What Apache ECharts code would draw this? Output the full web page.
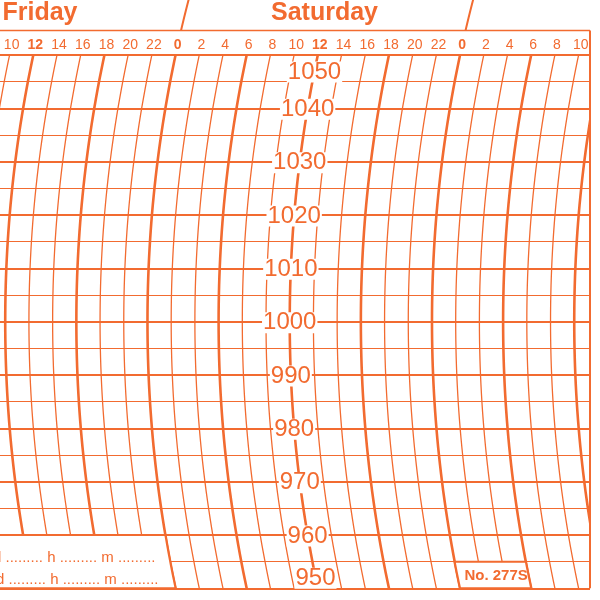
<!DOCTYPE html>
<html>
<head>
<meta charset="utf-8">
<script src="https://cdn.jsdelivr.net/npm/echarts@6/dist/echarts.min.js"></script>
<style>
html,body{margin:0;padding:0;background:#fff;}
#c{width:600px;height:600px;}
</style>
</head>
<body>
<div id="c"></div>
<script>
// ---- chart content ----
const dayNames = ['Friday', 'Saturday'];
const dayNoonHours = [12, 36];              // hours counted from Friday 00:00
const daySeparatorHours = [24, 48];
const timeLineHours = [8, 10, 12, 14, 16, 18, 20, 22, 24, 26, 28, 30, 32, 34, 36, 38, 40, 42, 44, 46, 48, 50, 52, 54, 56, 58, 60];
const hourLabelHours = [10, 12, 14, 16, 18, 20, 22, 24, 26, 28, 30, 32, 34, 36, 38, 40, 42, 44, 46, 48, 50, 52, 54, 56, 58];
const hourLabelTexts = ['10', '12', '14', '16', '18', '20', '22', '0', '2', '4', '6', '8', '10', '12', '14', '16', '18', '20', '22', '0', '2', '4', '6', '8', '10'];
const pressureTicks = [1050, 1040, 1030, 1020, 1010, 1000, 990, 980, 970, 960, 950];
const pressureLabels = ['1050', '1040', '1030', '1020', '1010', '1000', '990', '980', '970', '960', '950'];
const pressureLabelHour = 36;
const noteLines = ['d ......... h ......... m .........', 'd ......... h ......... m .........'];
const noteBoxEndHour = 24;
const noteBoxPressure = [950, 960];
const chartNumber = 'No. 277S';
const numberBoxHours = [48, 54];
const numberBoxPressure = [950, 955];

// ---- axis range / style ----
const hourAxisMin = 11.56, hourAxisMax = 61.33;
const pressureMin = 950, pressureMax = 1050;
const arcVertexPressure = 1000;
const arcRadiusRatio = 2.4;
const ORANGE = '#F26B30';
const FONT = '"Liberation Sans", Arial, sans-serif';

function makeArc(params, api) {
  const cs = params.coordSys;
  const yc = api.coord([hourAxisMin, arcVertexPressure])[1];
  const R = arcRadiusRatio * cs.height;
  return function (h, y) {
    const x0 = api.coord([h, arcVertexPressure])[0];
    const d = y - yc;
    return x0 + R - Math.sqrt(R * R - d * d);
  };
}
function arcPoints(arc, h, y1, y2, n) {
  const pts = [];
  for (let i = 0; i <= n; i++) {
    const y = y1 + (y2 - y1) * i / n;
    pts.push([arc(h, y), y]);
  }
  return pts;
}

const chart = echarts.init(document.getElementById('c'));
const option = {
  animation: false,
  backgroundColor: '#ffffff',
  grid: { left: 0, right: 10, top: 55, bottom: 11.7, containLabel: false, outerBoundsMode: 'none' },
  xAxis: { type: 'value', min: hourAxisMin, max: hourAxisMax, show: false },
  yAxis: {
    type: 'value', min: pressureMin, max: pressureMax, interval: 10,
    axisLine: { show: false }, axisTick: { show: false }, axisLabel: { show: false },
    splitLine: { show: true, showMinLine: true, showMaxLine: true, lineStyle: { color: ORANGE, width: 2 } },
    minorTick: { show: false, splitNumber: 2 },
    minorSplitLine: { show: true, lineStyle: { color: ORANGE, width: 1.1 } }
  },
  series: [
    {
      // curved time lines
      type: 'custom', coordinateSystem: 'cartesian2d', clip: true, z: 2, silent: true,
      data: timeLineHours.map(h => [h, arcVertexPressure]),
      renderItem: function (params, api) {
        const arc = makeArc(params, api);
        const h = api.value(0);
        const yT = api.coord([h, pressureMax])[1] - 2;
        const yB = api.coord([h, pressureMin])[1] + 2;
        return {
          type: 'polyline',
          shape: { points: arcPoints(arc, h, yT, yB, 60) },
          style: { stroke: ORANGE, fill: null, lineWidth: (h % 6 === 0) ? 2.6 : 1.3 }
        };
      }
    },
    {
      // boxes at the bottom
      type: 'custom', coordinateSystem: 'cartesian2d', clip: false, z: 3, silent: true,
      data: [[noteBoxEndHour, noteBoxPressure[0]]],
      renderItem: function (params, api) {
        const arc = makeArc(params, api);
        const cs = params.coordSys;
        const yA = api.coord([0, noteBoxPressure[1]])[1];
        const yB = api.coord([0, noteBoxPressure[0]])[1];
        const notePts = [[cs.x - 6, yA]].concat(arcPoints(arc, noteBoxEndHour, yA, yB, 12)).concat([[cs.x - 6, yB]]);
        const nA = api.coord([0, numberBoxPressure[1]])[1];
        const nB = api.coord([0, numberBoxPressure[0]])[1];
        const numPts = arcPoints(arc, numberBoxHours[0], nA, nB, 8).concat(arcPoints(arc, numberBoxHours[1], nB, nA, 8));
        const ny = (nA + nB) / 2 + 1;
        const nx = (arc(numberBoxHours[0], ny) + arc(numberBoxHours[1], ny)) / 2 + 3;
        return {
          type: 'group',
          children: [
            { type: 'polygon', shape: { points: notePts }, style: { fill: '#fff', stroke: ORANGE, lineWidth: 2 } },
            { type: 'polygon', shape: { points: numPts }, style: { fill: '#fff', stroke: ORANGE, lineWidth: 2 } },
            { type: 'text', x: cs.x - 7, y: yA + 23, style: { text: noteLines[0], fill: ORANGE, font: '15px ' + FONT, align: 'left', verticalAlign: 'middle' } },
            { type: 'text', x: cs.x - 4, y: yA + 44.5, style: { text: noteLines[1], fill: ORANGE, font: '15px ' + FONT, align: 'left', verticalAlign: 'middle' } },
            { type: 'text', x: nx, y: ny, style: { text: chartNumber, fill: ORANGE, font: 'bold 15px ' + FONT, align: 'center', verticalAlign: 'middle' } }
          ]
        };
      }
    },
    {
      // pressure labels
      type: 'custom', coordinateSystem: 'cartesian2d', clip: false, z: 4, silent: true,
      data: pressureTicks.map((p, i) => [pressureLabelHour, p, i]),
      renderItem: function (params, api) {
        const arc = makeArc(params, api);
        const p = api.value(1);
        let y = api.coord([pressureLabelHour, p])[1];
        if (p === pressureMax) y += 16;
        if (p === pressureMin) y -= 11;
        return {
          type: 'text', x: arc(pressureLabelHour, y), y: y + 1,
          style: {
            text: pressureLabels[api.value(2)], fill: ORANGE, font: '24px ' + FONT,
            align: 'center', verticalAlign: 'middle', lineHeight: 21,
            backgroundColor: '#fff', padding: [0, 1]
          }
        };
      }
    },
    {
      // hour labels in the header band
      type: 'custom', coordinateSystem: 'cartesian2d', clip: false, z: 4, silent: true,
      data: hourLabelHours.map((h, i) => [h, pressureMax, i]),
      renderItem: function (params, api) {
        const arc = makeArc(params, api);
        const h = api.value(0);
        const y = api.coord([h, pressureMax])[1] - 9.5;
        const txt = hourLabelTexts[api.value(2)];
        const bold = (h % 12 === 0);
        return {
          type: 'text', x: arc(h, y), y: y,
          style: { text: txt, fill: ORANGE, font: (bold ? 'bold ' : '') + '14px ' + FONT, align: 'center', verticalAlign: 'middle' }
        };
      }
    },
    {
      // header frame, day separators and day names
      type: 'custom', coordinateSystem: 'cartesian2d', clip: false, z: 4, silent: true,
      data: [[hourAxisMin, pressureMax]],
      renderItem: function (params, api) {
        const arc = makeArc(params, api);
        const cs = params.coordSys;
        const headTop = cs.y - 24.5;
        const right = cs.x + cs.width;
        const bottom = cs.y + cs.height;
        const children = [
          { type: 'line', shape: { x1: cs.x - 5, y1: headTop, x2: right, y2: headTop }, style: { stroke: ORANGE, lineWidth: 1.6 } },
          { type: 'line', shape: { x1: right, y1: headTop, x2: right, y2: bottom }, style: { stroke: ORANGE, lineWidth: 2 } }
        ];
        daySeparatorHours.forEach(h => {
          children.push({ type: 'polyline', shape: { points: arcPoints(arc, h, -2, headTop, 10) }, style: { stroke: ORANGE, fill: null, lineWidth: 2 } });
        });
        dayNames.forEach((name, i) => {
          const y = headTop - 17.5;
          children.push({
            type: 'text', x: arc(dayNoonHours[i], y) - 3, y: y,
            style: { text: name, fill: ORANGE, font: 'bold 25px ' + FONT, align: 'center', verticalAlign: 'middle' }
          });
        });
        return { type: 'group', children: children };
      }
    }
  ]
};
chart.setOption(option);
</script>
</body>
</html>
